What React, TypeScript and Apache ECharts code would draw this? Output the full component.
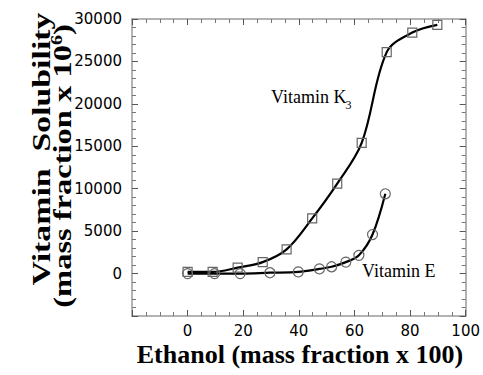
import React, { useEffect, useRef } from "react";
import * as echarts from "echarts";

const k3X = [0, 9, 18, 27, 35.6, 44.8, 53.8, 62.6, 71.6, 80.8, 89.8];
const k3Y = [200, 200, 700, 1350, 2850, 6500, 10600, 15400, 26100, 28400, 29300];
const eX = [0, 9.7, 18.9, 29.6, 39.8, 47.4, 51.8, 56.9, 61.6, 66.5, 71.1];
const eY = [0, 0, 0, 100, 200, 550, 800, 1350, 2150, 4600, 9400];

const xTicks = { min: -20, max: 100, interval: 20 };
const yTicks = { min: -5000, max: 30000, interval: 5000 };

const SERIF = "'Liberation Serif', 'Times New Roman', serif";
const SANS = "'DejaVu Sans', sans-serif";

export default function App() {
  const ref = useRef<HTMLDivElement>(null);
  useEffect(() => {
    if (!ref.current) return;
    const chart = echarts.init(ref.current, undefined, { renderer: "svg" });
    const frameLine = { show: true, onZero: false, lineStyle: { color: "#9a9a9a", width: 1.5 } };
    const tick = { show: true, inside: true, length: 6, lineStyle: { color: "#555", width: 1 } };
    const minor = (n: number) => ({ show: true, splitNumber: n, length: 4, lineStyle: { color: "#777", width: 1 } });
    const xBase = { type: "value" as const, ...xTicks, splitLine: { show: false }, axisLine: frameLine, axisTick: tick, minorTick: minor(4) };
    const yBase = { type: "value" as const, ...yTicks, splitLine: { show: false }, axisLine: frameLine, axisTick: tick, minorTick: minor(5) };
    chart.setOption({
      animation: false,
      grid: { left: 132, right: 17, top: 19, bottom: 59, containLabel: false },
      xAxis: [
        {
          ...xBase,
          position: "bottom",
          axisLabel: {
            color: "#000",
            fontFamily: SANS,
            fontSize: 15,
            lineHeight: 14,
            margin: 8,
            formatter: (v: number) => (v < 0 ? "" : String(v)),
          },
        },
        { ...xBase, position: "top", axisLabel: { show: false } },
      ],
      yAxis: [
        {
          ...yBase,
          position: "left",
          axisLabel: {
            color: "#000",
            fontFamily: SANS,
            fontSize: 15,
            margin: 10,
            formatter: (v: number) => (v < 0 ? "" : String(v)),
          },
        },
        { ...yBase, position: "right", axisLabel: { show: false } },
      ],
      series: [
        {
          type: "line",
          data: k3X.map((x, i) => [x, k3Y[i]]),
          smooth: 0.35,
          symbol: "rect",
          symbolSize: 9,
          itemStyle: { color: "rgba(0,0,0,0)", borderColor: "#666", borderWidth: 1.2 },
          lineStyle: { color: "#000", width: 2.2 },
        },
        {
          type: "line",
          data: eX.map((x, i) => [x, eY[i]]),
          smooth: 0.35,
          symbol: "circle",
          symbolSize: 10,
          itemStyle: { color: "rgba(0,0,0,0)", borderColor: "#666", borderWidth: 1.2 },
          lineStyle: { color: "#000", width: 2.2 },
        },
      ],
      graphic: [
        {
          type: "text",
          x: 300,
          y: 354,
          style: { text: "Ethanol (mass fraction x 100)", font: `bold 26px ${SERIF}`, fill: "#000", align: "center", verticalAlign: "middle" },
        },
        {
          type: "text",
          x: 41,
          y: 149,
          rotation: Math.PI / 2,
          scaleX: 1.3,
          style: { text: "Vitamin  Solubility", font: `bold 26px ${SERIF}`, fill: "#000", align: "center", verticalAlign: "middle" },
        },
        {
          type: "text",
          x: 62,
          y: 166,
          rotation: Math.PI / 2,
          scaleX: 1.25,
          style: {
            text: "{a|(mass fraction x 10}{s|6}{a|)}",
            align: "center",
            verticalAlign: "middle",
            rich: {
              a: { fontFamily: SERIF, fontWeight: "bold", fontSize: 26, fill: "#000", color: "#000" },
              s: { fontFamily: SERIF, fontWeight: "bold", fontSize: 16, fill: "#000", color: "#000", verticalAlign: "top" },
            },
          },
        },
        {
          type: "text",
          x: 271,
          y: 97,
          style: { text: "Vitamin K", font: `18px ${SERIF}`, fill: "#000", align: "left", verticalAlign: "middle" },
        },
        {
          type: "text",
          x: 345.5,
          y: 105,
          style: { text: "3", font: `12px ${SERIF}`, fill: "#000", align: "left", verticalAlign: "middle" },
        },
        {
          type: "text",
          x: 362,
          y: 271,
          style: { text: "Vitamin E", font: `18px ${SERIF}`, fill: "#000", align: "left", verticalAlign: "middle" },
        },
      ],
    });
    return () => chart.dispose();
  }, []);
  return <div ref={ref} style={{ width: 483, height: 375, position: "absolute", left: 0, top: 0 }} />;
}
